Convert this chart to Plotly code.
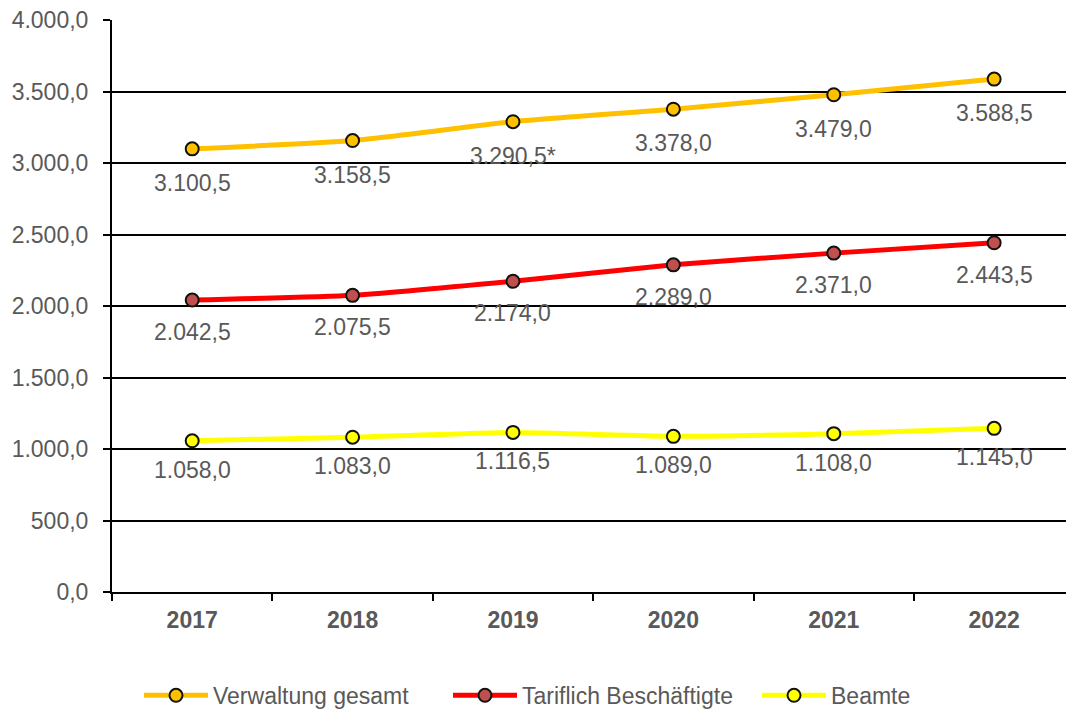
import plotly.graph_objects as go

years = ["2017", "2018", "2019", "2020", "2021", "2022"]
verwaltung = [3100.5, 3158.5, 3290.5, 3378.0, 3479.0, 3588.5]
tariflich = [2042.5, 2075.5, 2174.0, 2289.0, 2371.0, 2443.5]
beamte = [1058.0, 1083.0, 1116.5, 1089.0, 1108.0, 1145.0]
verwaltung_suffix = ["", "", "*", "", "", ""]

FONT = "Liberation Sans, Arial, sans-serif"
GRAY = "#595959"
FS = 23


def de(v):
    s = f"{v:,.1f}"
    return s.replace(",", "X").replace(".", ",").replace("X", ".")


series = [
    ("Verwaltung gesamt", verwaltung, "#FFC000", "#FFC000", verwaltung_suffix, 34),
    ("Tariflich Beschäftigte", tariflich, "#FF0000", "#C0504D", [""] * 6, 32),
    ("Beamte", beamte, "#FFFF00", "#FFFF00", [""] * 6, 29),
]

fig = go.Figure()
annotations = []
for name, vals, lc, mc, suf, off in series:
    fig.add_trace(go.Scatter(
        x=years, y=vals, name=name, mode="lines+markers",
        line=dict(color=lc, width=5, shape="spline", smoothing=0.5),
        marker=dict(size=13, color=mc, line=dict(color="#111111", width=2)),
        hoverinfo="skip",
    ))
    for i, (v, s) in enumerate(zip(vals, suf)):
        annotations.append(dict(
            x=i, y=v, xref="x", yref="y", text=de(v) + s, showarrow=False,
            yshift=-off, font=dict(family=FONT, size=FS, color=GRAY),
        ))

fig.update_layout(
    width=1066, height=711,
    margin=dict(l=112, r=0, t=20, b=119),
    paper_bgcolor="white", plot_bgcolor="white",
    separators=",.",
    font=dict(family=FONT, size=FS, color=GRAY),
    annotations=annotations,
    showlegend=True,
    legend=dict(
        orientation="h", x=0.101, xanchor="left",
        yref="container", y=0.022, yanchor="middle",
        font=dict(family=FONT, size=FS, color=GRAY),
        itemwidth=64, tracegroupgap=0, entrywidth=230,
    ),
)
fig.update_xaxes(
    type="category", range=[-0.5, 5.448],
    showline=True, linecolor="black", linewidth=2,
    ticks="outside", ticklen=7, tickcolor="black", tickwidth=2,
    tickson="boundaries", showgrid=False, zeroline=False,
    tickfont=dict(family=FONT, size=FS, color=GRAY, weight="bold"),
    ticklabelstandoff=6,
)
fig.update_yaxes(
    range=[0, 4002], tickvals=[0, 500, 1000, 1500, 2000, 2500, 3000, 3500, 4000],
    tickformat=",.1f",
    showline=True, linecolor="black", linewidth=2,
    ticks="outside", ticklen=7, tickcolor="black", tickwidth=2,
    showgrid=True, gridcolor="black", gridwidth=2, zeroline=False,
    tickfont=dict(family=FONT, size=FS, color=GRAY),
    ticklabelstandoff=10,
)

fig.write_html(
    "out.html",
    config={"displayModeBar": False},
    post_script="document.body.style.margin='0';document.body.style.overflow='hidden';",
)
